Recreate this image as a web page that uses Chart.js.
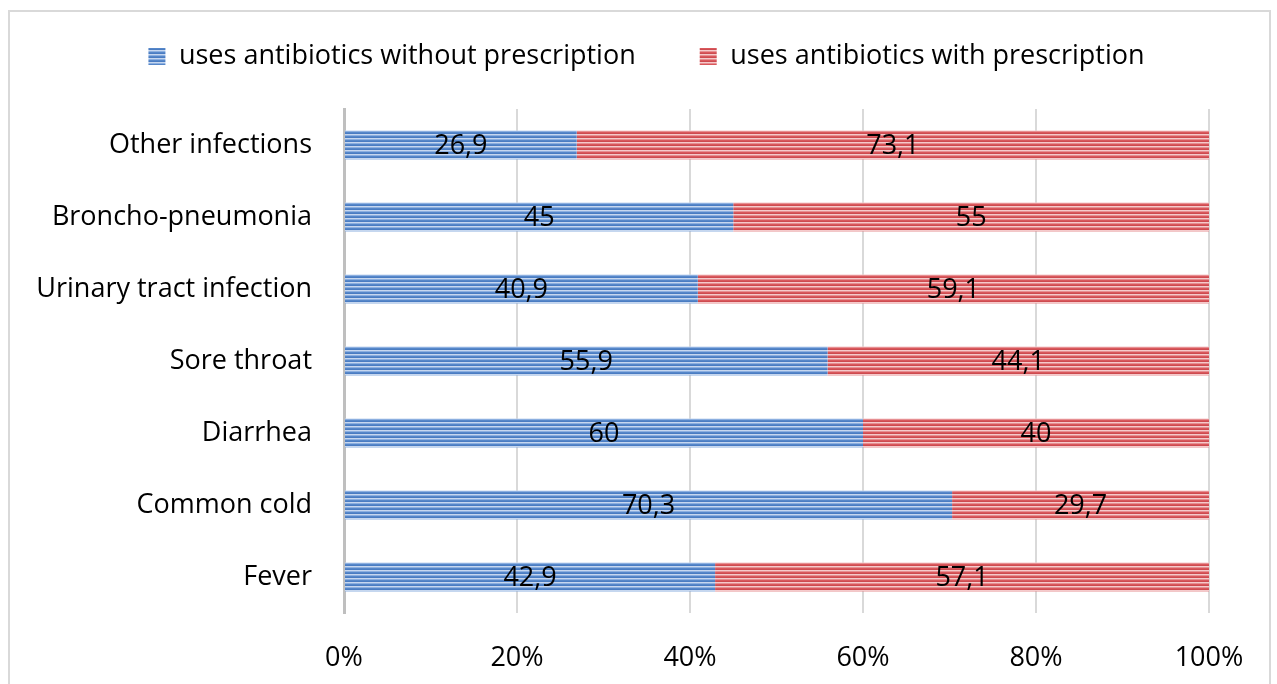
<!DOCTYPE html>
<html>
<head>
<meta charset="utf-8">
<script src="https://cdn.jsdelivr.net/npm/chart.js@4/dist/chart.umd.min.js"></script>
<style>
  html, body { margin: 0; padding: 0; background: #fff; overflow: hidden; }
  #frame {
    position: absolute; left: 8px; top: 10px; width: 1263px; height: 700px;
    border: 2px solid #d9d9d9; box-sizing: border-box;
  }
  #wrap { position: absolute; left: 0; top: 0; width: 1277px; height: 684px; }
</style>
</head>
<body>
<div id="frame"></div>
<div id="wrap"><canvas id="usageChart" width="1277" height="684"></canvas></div>
<script>
// antibiotic use by illness, share with / without prescription
var illnesses = ['Other infections', 'Broncho-pneumonia', 'Urinary tract infection', 'Sore throat', 'Diarrhea', 'Common cold', 'Fever'];
var withoutPrescription = [26.9, 45, 40.9, 55.9, 60, 70.3, 42.9];
var withPrescription = [73.1, 55, 59.1, 44.1, 40, 29.7, 57.1];
var percentTicks = [0, 20, 40, 60, 80, 100];

var FONT = '"Open Sans", Lato, sans-serif';
var SIZE = 27;

// horizontal stripe fill, 4px repeat
function stripes(rows) {
    var c = document.createElement('canvas');
    c.width = 4; c.height = rows.length;
    var g = c.getContext('2d');
    rows.forEach(function (col, i) {
        g.fillStyle = col;
        g.fillRect(0, i, 4, 1);
    });
    return g.createPattern(c, 'repeat');
}
var blueFill = stripes(['#5687c9', '#4a7cc2', '#c6d7ef', '#8cafe0']);
var redFill = stripes(['#d9585c', '#cd4b50', '#f5cacb', '#e68f92']);

// value labels in the middle of every segment
var segmentLabels = {
    id: 'segmentLabels',
    afterDatasetsDraw: function (chart) {
        var ctx = chart.ctx;
        ctx.save();
        ctx.font = SIZE + 'px ' + FONT;
        ctx.fillStyle = '#000';
        ctx.textAlign = 'center';
        ctx.textBaseline = 'middle';
        chart.data.datasets.forEach(function (ds, di) {
            chart.getDatasetMeta(di).data.forEach(function (bar, i) {
                var txt = String(ds.data[i]).replace('.', ',');
                ctx.fillText(txt, (bar.x + bar.base) / 2, bar.y + 1);
            });
        });
        ctx.restore();
    }
};

// taller legend band, and legend nudged right
var legendGap = {
    id: 'legendGap',
    beforeInit: function (chart) {
        var fit = chart.legend.fit;
        chart.legend.fit = function () {
            fit.call(this);
            this.height = 130;
        };
    },
    afterLayout: function (chart) {
        chart.legend.left += 42;
        chart.legend.right += 42;
    }
};

var ctx = document.getElementById('usageChart').getContext('2d');
var chart = new Chart(ctx, {
    type: 'bar',
    data: {
        labels: illnesses,
        datasets: [{
            label: 'uses antibiotics without prescription',
            data: withoutPrescription,
            backgroundColor: blueFill,
            borderWidth: 0
        }, {
            label: 'uses antibiotics with prescription',
            data: withPrescription,
            backgroundColor: redFill,
            borderWidth: 0
        }]
    },
    options: {
        indexAxis: 'y',
        responsive: false,
        animation: false,
        categoryPercentage: 0.4,
        barPercentage: 1,
        layout: { padding: { top: -21, right: 68, left: 0, bottom: 0 } },
        plugins: {
            legend: {
                position: 'top',
                labels: {
                    font: { size: SIZE, family: FONT },
                    color: '#000',
                    boxWidth: 17,
                    boxHeight: 17,
                    padding: 64
                }
            },
            tooltip: { enabled: false }
        },
        scales: {
            x: {
                stacked: true,
                min: 0,
                max: 100,
                afterBuildTicks: function (scale) {
                    scale.ticks = percentTicks.map(function (v) { return { value: v }; });
                },
                afterFit: function (scale) { scale.height = 71; },
                ticks: {
                    font: { size: SIZE, family: FONT },
                    color: '#000',
                    padding: 29,
                    callback: function (v) { return v + '%'; }
                },
                grid: { color: '#d9d9d9', lineWidth: 2, drawTicks: false },
                border: { display: false }
            },
            y: {
                stacked: true,
                afterFit: function (scale) { scale.width = 344; },
                ticks: {
                    font: { size: SIZE, family: FONT },
                    color: '#000',
                    padding: 32
                },
                grid: { display: false, drawTicks: false },
                border: { color: '#bfbfbf', width: 3 }
            }
        }
    },
    plugins: [segmentLabels, legendGap]
});
</script>
</body>
</html>
